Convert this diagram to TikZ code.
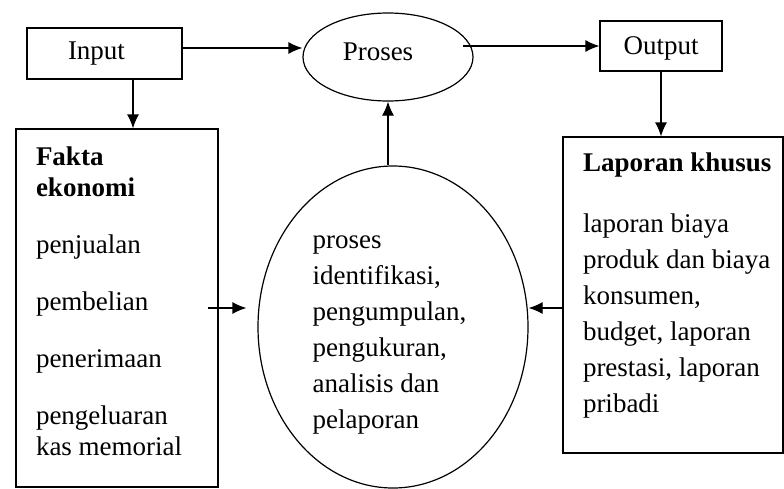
\documentclass[tikz,border=0pt]{standalone}
\usepackage{fontspec}
\setmainfont{Liberation Serif}
\usetikzlibrary{arrows.meta, positioning, shapes.geometric}

\tikzset{
  flow/.style={draw, -{Latex[length=14pt, width=12pt]}},
  txt/.style={align=left, inner sep=0pt, anchor=north west},
}

\begin{document}
\begin{tikzpicture}[x=1pt, y=1pt, node distance=0pt, line width=1.2pt, font=\fontsize{27}{31}\selectfont]

\useasboundingbox (0,0) rectangle (784,-488);

\node [draw, rectangle, minimum width=155pt, minimum height=51pt                                 ] (in)    at (104.5,-53.5) {\hspace*{-16pt}Input};
\node [draw, ellipse  , minimum width=170pt, minimum height=88pt , right of=in , xshift=283.5pt, yshift=-3.5pt] (pro)  {\hspace*{-20pt}\raisebox{5pt}[\height][\depth]{Proses}};
\node [draw, rectangle, minimum width=122pt, minimum height=50pt , right of=pro, xshift=273pt  , yshift=11pt  ] (out)  {\raisebox{-2pt}[\height][\depth]{Output}};
\node [draw, rectangle, minimum width=202pt, minimum height=358pt, below of=in , xshift=12.5pt , yshift=-254.5pt] (fakta) {};
\node [draw, ellipse  , minimum width=270pt, minimum height=322pt, below of=pro, xshift=5pt    , yshift=-270pt ] (big)  {};
\node [draw, rectangle, minimum width=220pt, minimum height=316pt, below of=out, xshift=12pt   , yshift=-249pt ] (lap)  {};

\node [txt] (ftxt) at ([xshift=20pt, yshift=-18pt]fakta.north west)
  {\bfseries Fakta\\ \bfseries ekonomi\\[26pt] penjualan\\[26pt] pembelian\\[26pt] penerimaan\\[26pt] pengeluaran\\ kas memorial};
\node [txt, font=\fontsize{27}{36}\selectfont] (btxt) at ([xshift=-81pt, yshift=92pt]big.center)
  {proses\\ identifikasi,\\ pengumpulan,\\ pengukuran,\\ analisis dan\\ pelaporan};
\node [txt, font=\fontsize{27}{36}\selectfont] (ltxt) at ([xshift=20pt, yshift=-16pt]lap.north west)
  {\bfseries Laporan khusus\\[25pt] laporan biaya\\ produk dan biaya\\ konsumen,\\ budget, laporan\\ prestasi, laporan\\ pribadi};

\path [flow] ([yshift=5.5pt]in.east) -- ([yshift=5.5pt]in.east -| pro.west);
\path [flow] ([xshift=-11pt]pro.east |- out.west) -- (out.west);

\path [flow] ([xshift=28.5pt]in.south) -- ([xshift=28.5pt]in.south |- fakta.north);
\path [flow] (out.south) -- (out.south |- lap.north);

\path [flow] (pro.south |- big.north) -- (pro.south);
\path [flow] ([xshift=-11pt]fakta.east) -- ([xshift=-11pt]big.west |- fakta.east);
\path [flow] ([yshift=-13pt]lap.west) -- ([yshift=-13pt]lap.west -| big.east);

\end{tikzpicture}
\end{document}
